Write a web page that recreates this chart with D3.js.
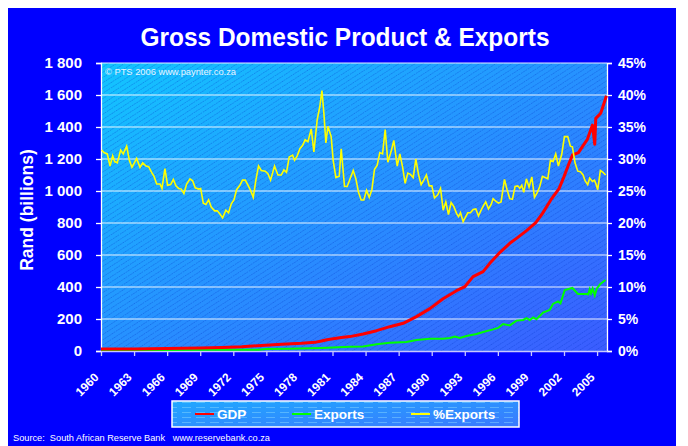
<!DOCTYPE html>
<html>
<head>
<meta charset="utf-8">
<script src="https://cdn.jsdelivr.net/npm/d3@7"></script>
<style>
  body { margin: 0; background: #fff; }
  text { font-family: "Liberation Sans", Arial, sans-serif; }
</style>
</head>
<body>
<div id="chart"></div>
<script>
// x axis labels (every 3 years)
const yearLabels = [1960, 1963, 1966, 1969, 1972, 1975, 1978, 1981, 1984, 1987, 1990, 1993, 1996, 1999, 2002, 2005];
const randTicks = [0, 200, 400, 600, 800, 1000, 1200, 1400, 1600, 1800];
const pctTicks = [0, 5, 10, 15, 20, 25, 30, 35, 40, 45];
const seriesNames = ["GDP", "Exports", "%Exports"];

// GDP, R billions  [year, value]
const gdp = [[1960.0,12],[1963,13],[1966,16],[1969,19],[1971,22],[1972.76,27],[1974.56,35],[1976.4,42],[1978.2,48],
  [1979.4,54],[1980.0,62],[1980.5,70],[1981.8,85],[1982.57,90],[1983.78,106],[1985.0,127],[1986.2,152],[1987.41,173],
  [1988.62,215],[1989.83,265],[1991.03,327],[1992.25,377],[1993.0,402],[1993.75,465],[1994.66,496],[1995.27,548],
  [1996.17,615],[1997.08,673],[1997.69,704],[1998.6,752],[1999.44,802],[2000.05,860],[2000.8,944],[2001.55,1015],
  [2002.0,1090],[2002.46,1173],[2002.77,1225],[2003.31,1240],[2003.67,1277],[2004.12,1323],[2004.58,1412],
  [2004.79,1292],[2004.88,1454],[2005.33,1486],[2005.63,1548],[2005.85,1595]];

// Exports, R billions
const exportsData = [[1960,6],[1965,7],[1970,8],[1974.3,8],[1975,12],[1977,14],[1980.0,19],[1981,22],[1982.57,27],
  [1983.78,28],[1985.0,42],[1986.2,52],[1987.7,56],[1988.62,69],[1989.83,77],[1991.03,77],[1991.64,81],[1992.1,90],
  [1992.55,81],[1993.15,94],[1994.06,106],[1994.66,119],[1995.57,135],[1996.02,144],[1996.47,169],[1997.08,160],
  [1997.69,190],[1998.29,194],[1998.6,206],[1998.9,194],[1999.2,210],[1999.5,198],[2000.1,240],[2000.7,256],
  [2001.0,294],[2001.46,310],[2001.68,298],[2002.07,381],[2002.76,394],[2003.27,356],[2004.03,356],[2004.2,354],
  [2004.33,385],[2004.45,360],[2004.6,390],[2004.79,348],[2004.97,390],[2005.3,419],[2005.76,444]];

// Exports as % of GDP
const pctExports = [[1960.06,31.4],[1960.27,31.0],[1960.57,30.8],[1960.82,28.9],[1961.06,30.5],[1961.24,29.6],
  [1961.48,29.4],[1961.78,31.4],[1962.02,30.8],[1962.33,32.0],[1962.57,29.8],[1962.81,28.7],[1963.23,30.1],
  [1963.54,28.7],[1963.78,29.4],[1964.08,28.9],[1964.32,28.8],[1964.59,27.9],[1964.81,27.3],[1965.05,26.1],
  [1965.35,26.1],[1965.53,25.4],[1965.80,28.5],[1966.04,25.9],[1966.32,26.0],[1966.56,26.8],[1966.80,25.8],
  [1967.04,25.4],[1967.28,25.3],[1967.52,24.6],[1967.77,26.1],[1968.07,26.9],[1968.31,26.6],[1968.55,25.5],
  [1968.85,25.3],[1969.04,25.4],[1969.28,23.1],[1969.52,22.9],[1969.76,23.6],[1970.00,22.5],[1970.31,21.9],
  [1970.55,21.9],[1970.79,21.4],[1971.03,20.8],[1971.33,22.0],[1971.57,21.6],[1971.82,23.0],[1972.06,23.6],
  [1972.30,25.2],[1972.60,25.9],[1972.84,26.7],[1973.09,26.7],[1973.33,25.9],[1973.57,25.1],[1973.81,24.0],
  [1974.05,26.7],[1974.29,28.9],[1974.54,28.2],[1974.90,28.1],[1975.14,27.7],[1975.38,26.7],[1975.74,28.9],
  [1976.05,27.5],[1976.35,27.5],[1976.59,28.3],[1976.83,27.9],[1977.07,30.3],[1977.38,30.6],[1977.56,29.8],
  [1977.80,30.5],[1978.04,31.6],[1978.28,32.1],[1978.52,33.0],[1978.77,32.7],[1979.07,34.7],[1979.31,31.1],
  [1979.61,36.1],[1979.85,38.2],[1980.04,40.7],[1980.22,37.1],[1980.40,32.5],[1980.58,35.1],[1980.88,33.5],
  [1981.06,29.8],[1981.31,27.1],[1981.61,27.3],[1981.79,31.6],[1982.09,25.7],[1982.33,25.7],[1982.64,27.1],
  [1982.88,28.2],[1983.12,26.9],[1983.36,24.8],[1983.60,23.6],[1983.84,23.6],[1984.09,25.1],[1984.33,24.0],
  [1984.57,25.2],[1984.81,28.4],[1985.05,29.0],[1985.29,31.0],[1985.54,30.8],[1985.78,34.6],[1986.02,29.5],
  [1986.32,31.2],[1986.56,32.9],[1986.87,28.9],[1987.11,30.8],[1987.35,28.8],[1987.59,26.2],[1987.83,27.8],
  [1988.07,27.6],[1988.32,27.1],[1988.56,30.0],[1988.80,27.6],[1989.04,26.0],[1989.28,26.7],[1989.52,27.5],
  [1989.77,25.8],[1990.01,25.8],[1990.25,23.9],[1990.55,24.4],[1990.80,25.4],[1991.04,22.0],[1991.28,23.3],
  [1991.52,21.3],[1991.76,23.2],[1992.00,22.6],[1992.25,21.5],[1992.43,21.0],[1992.61,21.6],[1992.85,20.2],
  [1993.09,21.0],[1993.27,21.6],[1993.51,21.6],[1993.76,22.1],[1994.00,22.2],[1994.24,21.1],[1994.48,22.0],
  [1994.72,22.8],[1994.90,23.3],[1995.15,22.2],[1995.39,22.9],[1995.57,23.8],[1995.81,23.4],[1996.05,23.1],
  [1996.29,23.3],[1996.60,26.8],[1996.84,25.2],[1997.08,23.8],[1997.32,23.7],[1997.56,25.7],[1997.81,25.8],
  [1997.99,25.4],[1998.17,25.9],[1998.35,24.8],[1998.59,26.9],[1998.83,25.6],[1999.08,27.2],[1999.32,24.0],
  [1999.56,24.7],[1999.80,25.7],[2000.04,27.3],[2000.28,27.1],[2000.53,26.9],[2000.77,29.8],[2001.01,29.6],
  [2001.25,30.8],[2001.49,28.9],[2001.79,30.7],[2002.04,33.5],[2002.34,33.5],[2002.58,32.0],[2002.76,31.9],
  [2003.00,29.4],[2003.25,28.1],[2003.49,28.0],[2003.73,27.5],[2003.91,26.6],[2004.15,26.0],[2004.33,27.0],
  [2004.58,26.5],[2004.76,26.7],[2004.88,26.2],[2005.06,25.2],[2005.30,28.2],[2005.54,27.9],[2005.78,27.5]];

var W = 688, H = 446;
var plot = {left: 101, right: 607, top: 63, bottom: 351};

var svg = d3.select("#chart").append("svg")
    .attr("width", W)
    .attr("height", H);

var defs = svg.append("defs");

// plot background gradient (cyan top-left -> blue bottom-right)
var grad = defs.append("linearGradient")
    .attr("id", "plotGrad")
    .attr("x1", 0).attr("y1", 0).attr("x2", 1).attr("y2", 1);
grad.append("stop").attr("offset", "0%").attr("stop-color", "#12c6ff");
grad.append("stop").attr("offset", "100%").attr("stop-color", "#3b5cff");

// diagonal dotted hatching
var hatch = defs.append("pattern")
    .attr("id", "hatch")
    .attr("patternUnits", "userSpaceOnUse")
    .attr("width", 8).attr("height", 4.4)
    .attr("patternTransform", "rotate(-33)");
hatch.append("line")
    .attr("x1", 0).attr("x2", 8).attr("y1", 2.2).attr("y2", 2.2)
    .attr("stroke", "rgba(0,50,200,0.35)")
    .attr("stroke-width", 1)
    .attr("stroke-dasharray", "1.5 1");

// legend texture
var lgGrad = defs.append("linearGradient")
    .attr("id", "legGrad")
    .attr("x1", 0).attr("y1", 0).attr("x2", 1).attr("y2", 1);
lgGrad.append("stop").attr("offset", "0%").attr("stop-color", "#20a8ff");
lgGrad.append("stop").attr("offset", "100%").attr("stop-color", "#3a78ff");
var lgHatch = defs.append("pattern")
    .attr("id", "legHatch")
    .attr("patternUnits", "userSpaceOnUse")
    .attr("width", 14).attr("height", 5);
lgHatch.append("line")
    .attr("x1", 0).attr("x2", 9).attr("y1", 2.5).attr("y2", 2.5)
    .attr("stroke", "rgba(140,220,255,0.45)")
    .attr("stroke-width", 1);

// outer blue frame
svg.append("rect")
    .attr("x", 8).attr("y", 8)
    .attr("width", 668).attr("height", H - 8)
    .attr("fill", "#0000ff");

// title
svg.append("text")
    .attr("x", 345).attr("y", 46)
    .attr("text-anchor", "middle")
    .attr("fill", "#fff")
    .attr("font-weight", "bold")
    .attr("font-size", 26)
    .attr("textLength", 409)
    .attr("lengthAdjust", "spacingAndGlyphs")
    .text("Gross Domestic Product & Exports");

// scales
var x = d3.scaleLinear().domain([1960, 2005.9]).range([plot.left, plot.right]);
var y = d3.scaleLinear().domain([0, 1800]).range([plot.bottom, plot.top]);
var y2 = d3.scaleLinear().domain([0, 45]).range([plot.bottom, plot.top]);

// plot area
svg.append("rect")
    .attr("x", plot.left).attr("y", plot.top)
    .attr("width", plot.right - plot.left).attr("height", plot.bottom - plot.top)
    .attr("fill", "url(#plotGrad)");
svg.append("rect")
    .attr("x", plot.left).attr("y", plot.top)
    .attr("width", plot.right - plot.left).attr("height", plot.bottom - plot.top)
    .attr("fill", "url(#hatch)");

// gridlines
svg.append("g")
    .selectAll("line")
    .data(randTicks.filter(d => d > 0))
  .enter().append("line")
    .attr("x1", plot.left).attr("x2", plot.right)
    .attr("y1", d => y(d)).attr("y2", d => y(d))
    .attr("stroke", "#fff")
    .attr("stroke-opacity", 0.9)
    .attr("stroke-width", 1.1);

var fmt = d3.formatLocale({decimal: ".", thousands: " ", grouping: [3], currency: ["", ""]}).format(",");

// left axis
var gl = svg.append("g")
    .attr("transform", "translate(" + plot.left + ",0)")
    .call(d3.axisLeft(y).tickValues(randTicks).tickFormat(fmt).tickSize(5).tickPadding(14));
gl.select(".domain").attr("stroke", "#fff").attr("stroke-width", 1.3);
gl.selectAll(".tick line").attr("stroke", "#fff").attr("stroke-width", 1.3);
gl.selectAll(".tick text")
    .attr("fill", "#fff")
    .attr("font-size", 15)
    .attr("font-weight", "bold")
    .attr("font-family", "Liberation Sans, Arial, sans-serif");

// right axis
var gr = svg.append("g")
    .attr("transform", "translate(" + plot.right + ",0)")
    .call(d3.axisRight(y2).tickValues(pctTicks).tickFormat(d => d + "%").tickSize(5).tickPadding(6));
gr.select(".domain").attr("stroke", "#fff").attr("stroke-width", 1.3);
gr.selectAll(".tick line").attr("stroke", "#fff").attr("stroke-width", 1.3);
gr.selectAll(".tick text")
    .attr("fill", "#fff")
    .attr("font-size", 14)
    .attr("font-weight", "bold")
    .attr("font-family", "Liberation Sans, Arial, sans-serif");

// bottom axis
var gb = svg.append("g")
    .attr("transform", "translate(0," + plot.bottom + ")")
    .call(d3.axisBottom(x).tickValues(yearLabels).tickFormat(d => d).tickSize(5).tickSizeOuter(0));
gb.select(".domain").attr("stroke", "#c8c8ff").attr("stroke-width", 1.5);
gb.selectAll(".tick line").attr("stroke", "#c8c8ff").attr("stroke-width", 1.3);
gb.selectAll(".tick text")
    .attr("fill", "#fff")
    .attr("font-size", 12)
    .attr("font-weight", "bold")
    .attr("font-family", "Liberation Sans, Arial, sans-serif")
    .attr("text-anchor", "end")
    .attr("dy", 0)
    .attr("y", 0)
    .attr("transform", "translate(-2,27) rotate(-45)");

// y axis title
svg.append("text")
    .attr("transform", "translate(33,210) rotate(-90)")
    .attr("text-anchor", "middle")
    .attr("fill", "#fff")
    .attr("font-weight", "bold")
    .attr("font-size", 17.5)
    .text("Rand (billions)");

// copyright
svg.append("text")
    .attr("x", 105).attr("y", 75)
    .attr("fill", "#e8f4ff")
    .attr("font-size", 9.5)
    .attr("textLength", 131)
    .attr("lengthAdjust", "spacingAndGlyphs")
    .text("\u00a9 PTS 2006 www.paynter.co.za");

// lines
svg.append("path")
    .datum(exportsData)
    .attr("fill", "none")
    .attr("stroke", "#00ff00")
    .attr("stroke-width", 2)
    .attr("d", d3.line().x(d => x(d[0])).y(d => y(d[1])));
svg.append("path")
    .datum(gdp)
    .attr("fill", "none")
    .attr("stroke", "#ff0000")
    .attr("stroke-width", 3)
    .attr("stroke-linejoin", "round")
    .attr("d", d3.line().x(d => x(d[0])).y(d => y(d[1])));
svg.append("path")
    .datum(pctExports)
    .attr("fill", "none")
    .attr("stroke", "#ffff00")
    .attr("stroke-width", 1.6)
    .attr("d", d3.line().x(d => x(d[0])).y(d => y2(d[1])));

// legend
var leg = svg.append("g");
leg.append("rect")
    .attr("x", 172).attr("y", 401).attr("width", 347).attr("height", 26)
    .attr("fill", "url(#legGrad)");
leg.append("rect")
    .attr("x", 172).attr("y", 401).attr("width", 347).attr("height", 26)
    .attr("fill", "url(#legHatch)")
    .attr("stroke", "#fff")
    .attr("stroke-width", 1.5);

var legColors = ["#ff0000", "#00ff00", "#ffff00"];
var legX = [195, 292, 411];
seriesNames.forEach(function(name, i) {
    leg.append("line")
        .attr("x1", legX[i]).attr("x2", legX[i] + 19)
        .attr("y1", 414).attr("y2", 414)
        .attr("stroke", legColors[i])
        .attr("stroke-width", 2);
    leg.append("text")
        .attr("x", legX[i] + 22).attr("y", 419)
        .attr("fill", "#fff")
        .attr("font-weight", "bold")
        .attr("font-size", 13.5)
        .text(name);
});

// source
svg.append("text")
    .attr("x", 13).attr("y", 441)
    .attr("fill", "#fff")
    .attr("font-size", 9.5)
    .style("white-space", "pre")
    .attr("textLength", 257)
    .attr("lengthAdjust", "spacingAndGlyphs")
    .text("Source:  South African Reserve Bank   www.reservebank.co.za");
</script>
</body>
</html>
